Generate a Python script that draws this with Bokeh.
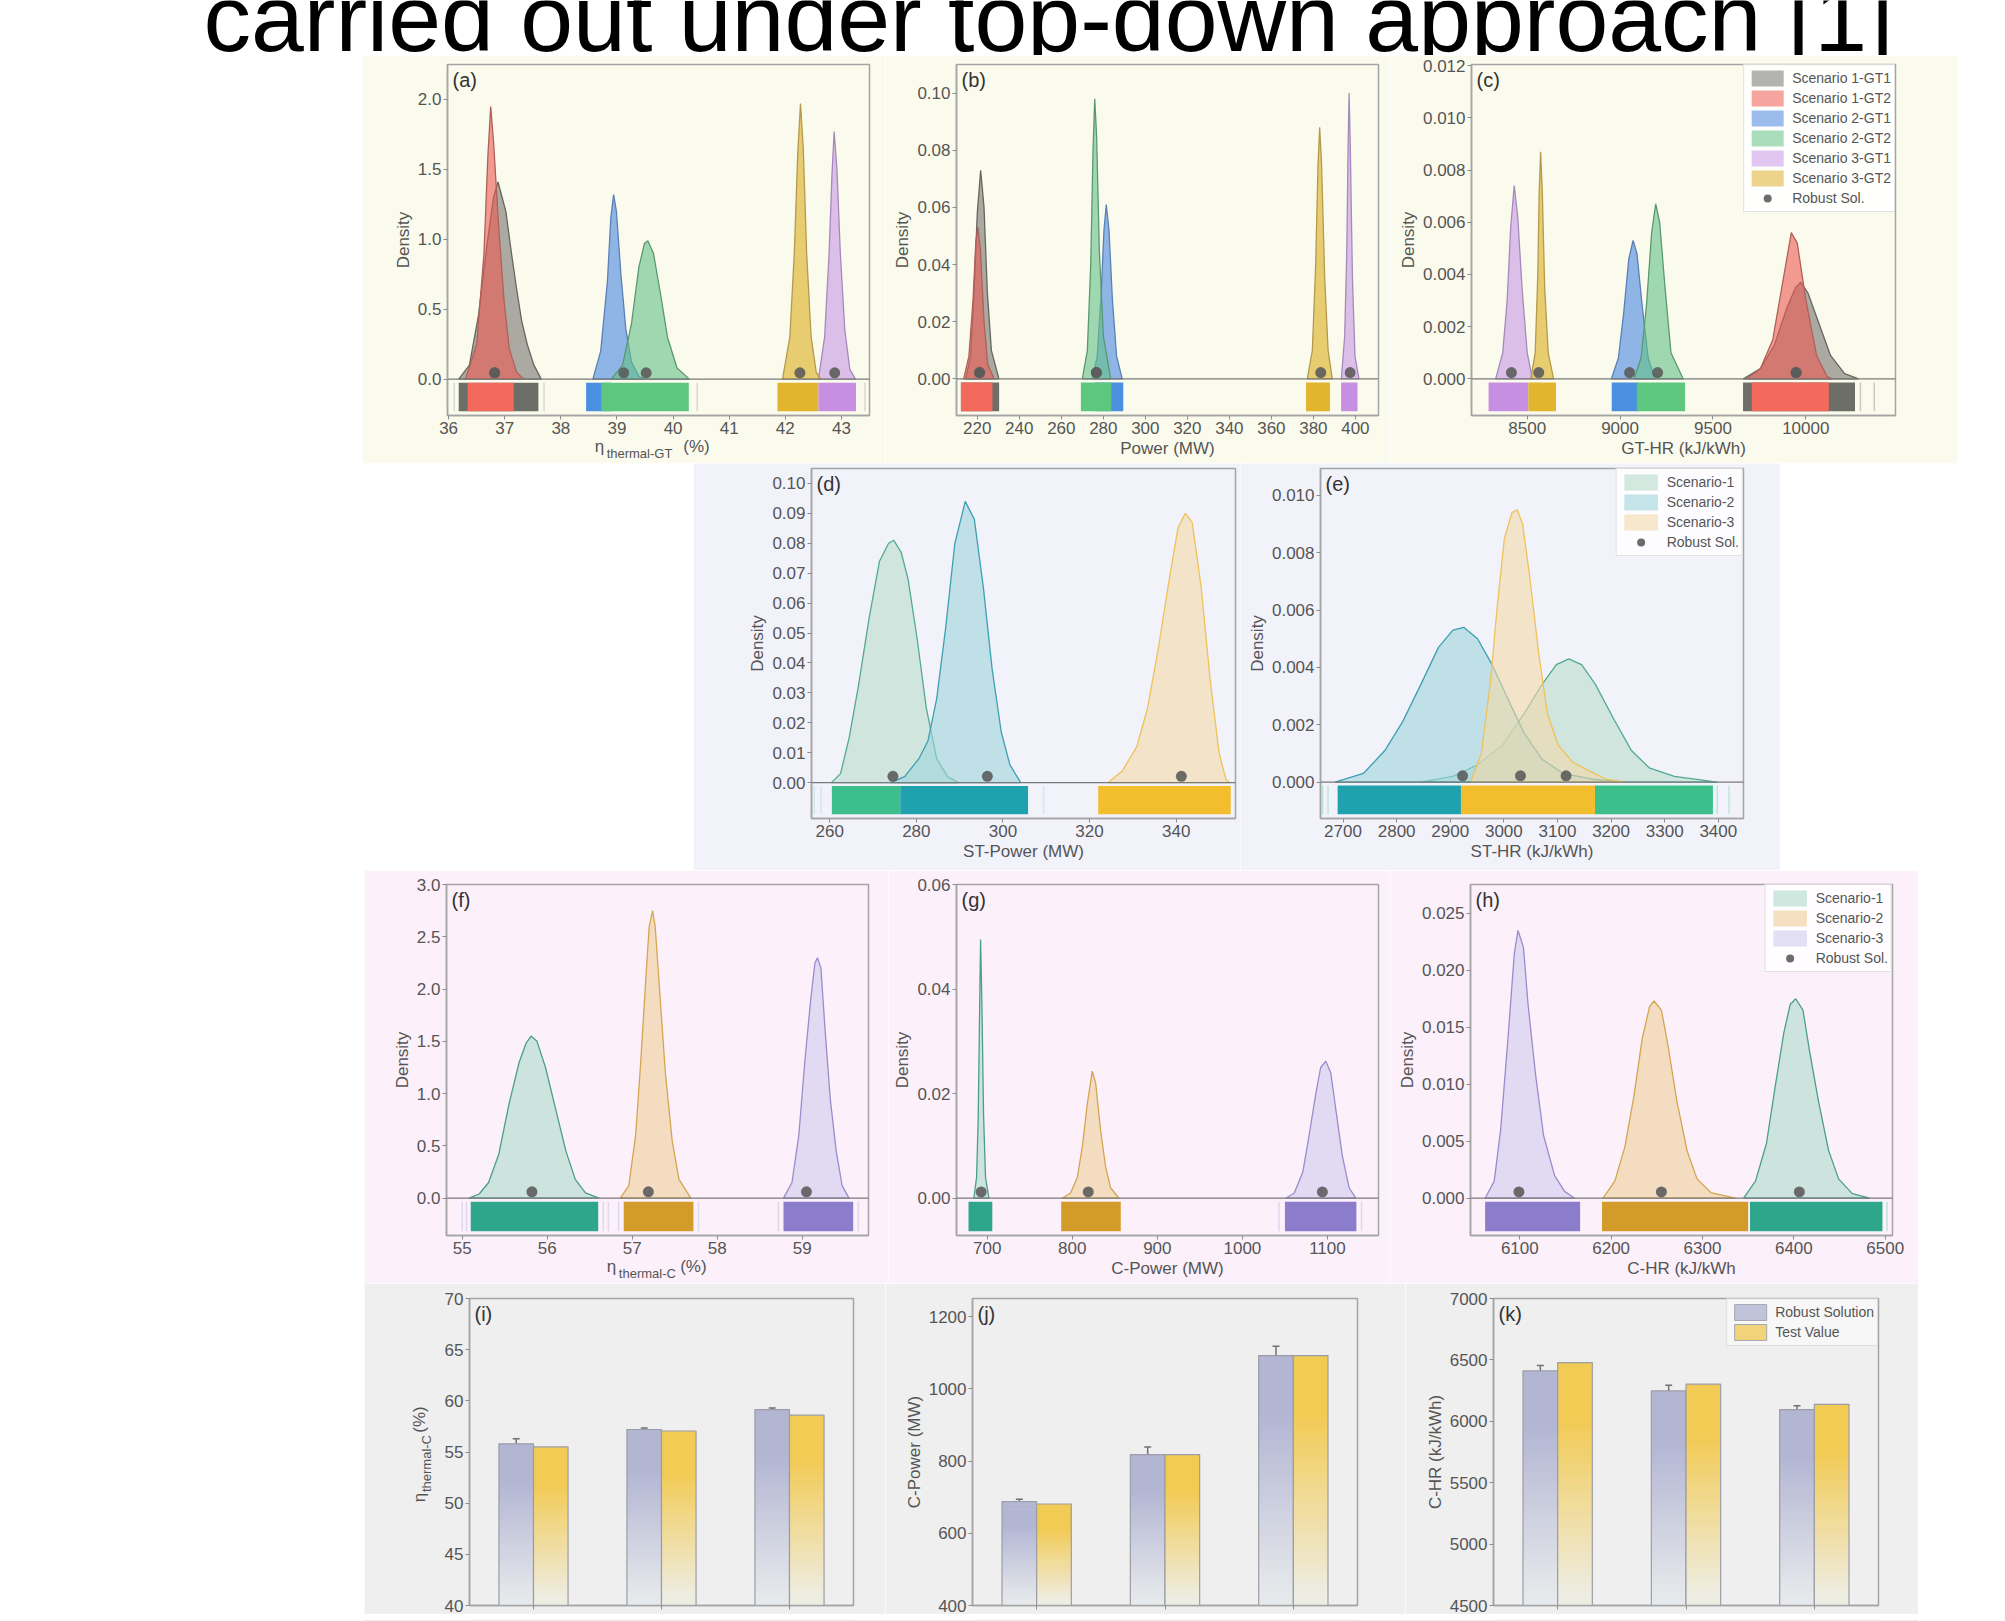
import math
from bokeh.plotting import figure
from bokeh.layouts import row, column
from bokeh.models import (Range1d, FixedTicker, PrintfTickFormatter, Span, Label, LinearAxis,
                          Legend, LegendItem, Whisker, TeeHead, ColumnDataSource, Spacer)
from bokeh.embed import file_html
from bokeh.resources import INLINE
from bokeh.core.properties import value

FONT = "Liberation Sans"
TXT = "#555555"
FRAME = "#a4a4a4"

TITLE_TEXT = "carried out under top-down approach [1]"
GT_NAMES = ["Scenario 1-GT1", "Scenario 1-GT2", "Scenario 2-GT1", "Scenario 2-GT2",
            "Scenario 3-GT1", "Scenario 3-GT2"]
SC_NAMES = ["Scenario-1", "Scenario-2", "Scenario-3"]
ROBUST_NAME = "Robust Sol."
CATEGORIES = ["Scenario-1", "Scenario-2", "Scenario-3"]
BAR_NAMES = ["Robust Solution", "Test Value"]

# ---------------- (a) eta thermal-GT ----------------
A_X = [[36.18, 36.37, 36.53, 36.68, 36.8, 36.88, 37.02, 37.12, 37.21, 37.3, 37.4, 37.52, 37.65],
       [36.3, 36.5, 36.63, 36.7, 36.75, 36.8, 36.89, 36.99, 37.08, 37.21, 37.34],
       [38.57, 38.71, 38.83, 38.89, 38.94, 38.99, 39.07, 39.16, 39.26, 39.39, 39.5],
       [38.9, 39.1, 39.26, 39.39, 39.49, 39.55, 39.65, 39.78, 39.9, 40.07, 40.29],
       [42.59, 42.7, 42.78, 42.83, 42.87, 42.92, 42.98, 43.06, 43.15, 43.25],
       [41.95, 42.08, 42.16, 42.22, 42.27, 42.32, 42.38, 42.46, 42.55, 42.63]]
A_Y = [[0, 0.1, 0.45, 0.95, 1.3, 1.41, 1.2, 0.9, 0.65, 0.42, 0.25, 0.1, 0],
       [0, 0.25, 0.9, 1.6, 1.95, 1.7, 1.1, 0.55, 0.22, 0.05, 0],
       [0, 0.2, 0.7, 1.15, 1.32, 1.2, 0.75, 0.35, 0.12, 0.02, 0],
       [0, 0.1, 0.4, 0.8, 0.97, 0.99, 0.9, 0.6, 0.3, 0.08, 0],
       [0, 0.3, 0.9, 1.45, 1.77, 1.5, 0.9, 0.35, 0.07, 0],
       [0, 0.3, 0.9, 1.6, 1.97, 1.65, 0.9, 0.3, 0.05, 0]]
A_DOT = [36.82, 36.82, 39.12, 39.52, 42.88, 42.26]
A_RUG_LO = [36.18, 36.34, 38.45, 38.72, 42.59, 41.86]
A_RUG_HI = [37.6, 37.16, 38.9, 40.28, 43.26, 42.59]
A_FAINT = [36.1, 37.7, 40.43, 43.42]
A_XTICKS = [36, 37, 38, 39, 40, 41, 42, 43]
A_YTICKS = [0.0, 0.5, 1.0, 1.5, 2.0]

# ---------------- (b) GT power ----------------
B_X = [[214.4, 216.8, 218.4, 220, 221.6, 223.2, 224.8, 226.7, 230.3],
       [213.5, 216, 218, 219.3, 220.3, 221.5, 223.2, 225, 228],
       [274.8, 277.1, 279, 280.3, 281.4, 282.7, 284.3, 286.3, 289],
       [270, 272.4, 274, 275.1, 275.9, 276.8, 278.1, 280, 283.5],
       [393.3, 394.9, 395.9, 396.5, 397, 397.6, 398.6, 399.8, 401.7],
       [377.1, 379.5, 381.1, 382.2, 383, 383.9, 385.4, 387, 389]]
B_Y = [[0, 0.008, 0.03, 0.058, 0.073, 0.06, 0.03, 0.01, 0],
       [0, 0.008, 0.028, 0.048, 0.053, 0.045, 0.02, 0.005, 0],
       [0, 0.008, 0.03, 0.052, 0.061, 0.052, 0.028, 0.008, 0],
       [0, 0.01, 0.04, 0.08, 0.098, 0.085, 0.045, 0.015, 0],
       [0, 0.015, 0.045, 0.08, 0.1, 0.08, 0.035, 0.008, 0],
       [0, 0.01, 0.04, 0.075, 0.088, 0.075, 0.035, 0.01, 0]]
B_DOT = [221.1, 221.1, 276.7, 276.7, 397.5, 383.5]
B_RUG_LO = [212.2, 212.2, 276.0, 269.3, 393.2, 376.5]
B_RUG_HI = [230.4, 227.2, 289.5, 283.8, 401.0, 387.9]
B_FAINT = []
B_XTICKS = [220, 240, 260, 280, 300, 320, 340, 360, 380, 400]
B_YTICKS = [0.0, 0.02, 0.04, 0.06, 0.08, 0.10]

# ---------------- (c) GT heat rate ----------------
C_X = [[9662, 9756, 9831, 9897, 9945, 9973, 10011, 10067, 10133, 10209, 10284],
       [9680, 9756, 9822, 9878, 9922, 9954, 10001, 10058, 10114, 10140],
       [8953, 8991, 9019, 9047, 9070, 9091, 9119, 9151, 9189],
       [9075, 9113, 9142, 9170, 9192, 9213, 9242, 9274, 9340],
       [8330, 8368, 8392, 8411, 8430, 8449, 8472, 8500, 8528],
       [8519, 8543, 8557, 8564, 8572, 8581, 8594, 8613, 8642]]
C_Y = [[0, 0.0004, 0.0013, 0.0027, 0.0035, 0.0037, 0.0033, 0.0022, 0.0009, 0.0002, 0],
       [0, 0.0004, 0.0015, 0.0038, 0.0056, 0.0052, 0.003, 0.0009, 0.0001, 0],
       [0, 0.0008, 0.0025, 0.0046, 0.0053, 0.0048, 0.0028, 0.0008, 0],
       [0, 0.0008, 0.0028, 0.0056, 0.0067, 0.006, 0.0035, 0.001, 0],
       [0, 0.001, 0.003, 0.0058, 0.0074, 0.0062, 0.0035, 0.001, 0],
       [0, 0.001, 0.004, 0.007, 0.0087, 0.0072, 0.0035, 0.001, 0]]
C_DOT = [9948, 9948, 9051, 9202, 8415, 8562]
C_RUG_LO = [9662, 9709, 8955, 9090, 8292, 8506]
C_RUG_HI = [10265, 10124, 9100, 9350, 8506, 8655]
C_FAINT = [10294, 10369]
C_XTICKS = [8500, 9000, 9500, 10000, 10500]
C_YTICKS = [0.0, 0.002, 0.004, 0.006, 0.008, 0.010, 0.012]

# ---------------- (d) ST power ----------------
D_X = [[260.4, 262.5, 264.5, 266.6, 269.1, 271.5, 273.6, 274.8, 276.5, 278.1, 280.2, 282.3, 284.7, 287.2, 289.7],
       [274, 277.3, 280.6, 282.7, 284.7, 286.8, 288.9, 291.3, 293.4, 295.5, 297.5, 299.6, 301.6, 304.1],
       [324.3, 327.6, 330.9, 333.4, 335.9, 338.4, 340.4, 342.1, 343.7, 345.8, 347.8, 349.9, 351.5, 352.4]]
D_Y = [[0, 0.003, 0.015, 0.032, 0.055, 0.074, 0.08, 0.081, 0.077, 0.068, 0.048, 0.025, 0.008, 0.002, 0],
       [0, 0.002, 0.008, 0.014, 0.028, 0.052, 0.08, 0.094, 0.088, 0.065, 0.038, 0.017, 0.006, 0],
       [0, 0.004, 0.012, 0.025, 0.045, 0.068, 0.085, 0.09, 0.087, 0.065, 0.035, 0.01, 0.001, 0]]
D_DOT = [274.6, 296.4, 341.2]
D_RUG_LO = [260.5, 276.3, 322.0]
D_RUG_HI = [276.3, 305.8, 352.6]
D_FAINT = [256.4, 258.0, 309.4]
D_XTICKS = [260, 280, 300, 320, 340]
D_YTICKS = [0.0, 0.01, 0.02, 0.03, 0.04, 0.05, 0.06, 0.07, 0.08, 0.09, 0.10]

# ---------------- (e) ST heat rate ----------------
E_X = [[2845, 2905, 2951, 2998, 3038, 3071, 3098, 3121, 3145, 3171, 3205, 3238, 3271, 3318, 3398],
       [2685, 2738, 2778, 2811, 2845, 2878, 2905, 2925, 2951, 2978, 3005, 3038, 3071, 3111, 3165, 3225],
       [2938, 2958, 2975, 2988, 3001, 3015, 3025, 3035, 3048, 3065, 3081, 3101, 3128, 3158, 3191, 3225]]
E_Y = [[0, 0.0002, 0.0006, 0.0013, 0.0024, 0.0034, 0.0041, 0.0043, 0.0041, 0.0034, 0.0022, 0.0011, 0.0005, 0.0002, 0],
       [0, 0.0003, 0.0011, 0.0021, 0.0034, 0.0047, 0.0053, 0.0054, 0.005, 0.0041, 0.003, 0.0017, 0.0008, 0.0003, 0.0001, 0],
       [0, 0.001, 0.0035, 0.0062, 0.0085, 0.0094, 0.0095, 0.009, 0.0072, 0.0045, 0.0024, 0.0013, 0.0007, 0.0004, 0.0001, 0]]
E_DOT = [3116, 2923, 3031]
E_RUG_LO = [3170, 2690, 2920]
E_RUG_HI = [3390, 2920, 3170]
E_FAINT = [2662, 2672, 3398, 3420]
E_XTICKS = [2700, 2800, 2900, 3000, 3100, 3200, 3300, 3400]
E_YTICKS = [0.0, 0.002, 0.004, 0.006, 0.008, 0.010]

# ---------------- (f) eta thermal-C ----------------
F_X = [[55.08, 55.2, 55.31, 55.43, 55.55, 55.67, 55.75, 55.81, 55.88, 55.98, 56.1, 56.22, 56.33, 56.45, 56.61],
       [56.86, 56.96, 57.04, 57.1, 57.16, 57.2, 57.24, 57.27, 57.33, 57.39, 57.47, 57.55, 57.69],
       [58.78, 58.88, 58.96, 59.03, 59.1, 59.15, 59.18, 59.22, 59.27, 59.33, 59.4, 59.47, 59.55]]
F_Y = [[0, 0.04, 0.15, 0.42, 0.9, 1.3, 1.48, 1.55, 1.5, 1.25, 0.85, 0.45, 0.18, 0.05, 0],
       [0, 0.12, 0.6, 1.3, 2.1, 2.6, 2.75, 2.6, 1.9, 1.2, 0.55, 0.18, 0],
       [0, 0.15, 0.6, 1.3, 1.9, 2.25, 2.3, 2.2, 1.6, 0.95, 0.45, 0.12, 0]]
F_DOT = [55.82, 57.19, 59.05]
F_RUG_LO = [55.1, 56.9, 58.78]
F_RUG_HI = [56.6, 57.72, 59.6]
F_FAINT = [55.0, 55.05, 56.66, 56.72, 56.84, 57.78, 58.72, 59.66]
F_XTICKS = [55, 56, 57, 58, 59]
F_YTICKS = [0.0, 0.5, 1.0, 1.5, 2.0, 2.5, 3.0]

# ---------------- (g) C power ----------------
G_X = [[684.3, 687.5, 689.4, 691, 692.2, 693.7, 695.7, 698, 702],
       [788, 798, 806, 812, 817.6, 823.5, 827.5, 833.3, 839.2, 845, 855],
       [1051, 1061, 1071, 1078.4, 1086.3, 1092, 1098, 1103.9, 1109.8, 1117.6, 1125.5, 1133.3]]
G_Y = [[0, 0.004, 0.015, 0.035, 0.0495, 0.038, 0.016, 0.004, 0],
       [0, 0.001, 0.004, 0.01, 0.018, 0.0243, 0.022, 0.013, 0.006, 0.002, 0],
       [0, 0.001, 0.005, 0.012, 0.02, 0.025, 0.0262, 0.024, 0.017, 0.008, 0.002, 0]]
G_DOT = [692.9, 818.8, 1094]
G_RUG_LO = [678, 787, 1050]
G_RUG_HI = [706, 857, 1134]
G_FAINT = [1043, 1140]
G_XTICKS = [700, 800, 900, 1000, 1100]
G_YTICKS = [0.0, 0.02, 0.04, 0.06]

# ---------------- (h) C heat rate ----------------
H_X = [[6345, 6358, 6370, 6379, 6389, 6396, 6402, 6410, 6417, 6427, 6438, 6449, 6464, 6483],
       [6191, 6204, 6215, 6225, 6234, 6242, 6247, 6255, 6262, 6272, 6283, 6294, 6309, 6336],
       [6062, 6072, 6079, 6087, 6094, 6098, 6104, 6109, 6117, 6126, 6138, 6149, 6160]]
H_Y = [[0, 0.0015, 0.0048, 0.0095, 0.0145, 0.017, 0.0175, 0.0165, 0.013, 0.0085, 0.0042, 0.0017, 0.0004, 0],
       [0, 0.0015, 0.0045, 0.009, 0.014, 0.0168, 0.0173, 0.0165, 0.0135, 0.0085, 0.0042, 0.0017, 0.0005, 0],
       [0, 0.0015, 0.006, 0.014, 0.0215, 0.0235, 0.022, 0.017, 0.011, 0.0055, 0.002, 0.0006, 0]]
H_DOT = [6406, 6255, 6099]
H_RUG_LO = [6352, 6190, 6062]
H_RUG_HI = [6497, 6350, 6166]
H_FAINT = [6502, 6510]
H_XTICKS = [6100, 6200, 6300, 6400, 6500]
H_YTICKS = [0.0, 0.005, 0.010, 0.015, 0.020, 0.025]

# ---------------- (i)(j)(k) bars ----------------
I_ROBUST = [55.8, 57.2, 59.15]
I_ERR = [0.5, 0.15, 0.15]
I_TEST = [55.5, 57.05, 58.6]
I_YTICKS = [40, 45, 50, 55, 60, 65, 70]
J_ROBUST = [688, 818, 1092]
J_ERR = [6, 21, 26]
J_TEST = [681, 818, 1092]
J_YTICKS = [400, 600, 800, 1000, 1200]
K_ROBUST = [6410, 6247, 6095]
K_ERR = [45, 47, 32]
K_TEST = [6478, 6302, 6138]
K_YTICKS = [4500, 5000, 5500, 6000, 6500, 7000]

# ---------------- styling ----------------
BG1, BG2, BG3, BG4 = "#fbfbed", "#f2f2fb", "#fcf0fb", "#efefef"
GT_FILL = ["#74746f", "#ec5a50", "#4886e1", "#62c187", "#c797e6", "#ddb22d"]
GT_ALPHA = [0.6, 0.6, 0.6, 0.6, 0.6, 0.65]
GT_LINE = ["#66665f", "#b0605a", "#5a80b5", "#5a9870", "#a48abb", "#b49a4c"]
GT_RUG = ["#6e6e69", "#f36a5c", "#4b8fe0", "#5ec77f", "#c68fe2", "#e2b52e"]
ST_FILL = ["#b8dccc", "#9dd4db", "#f4d9a8"]
ST_LINE = ["#52aa90", "#3d9fb2", "#efc25a"]
ST_RUG = ["#3cbf8a", "#20a2ae", "#f3be2e"]
CC_FILL = ["#aedacb", "#efcf99", "#d1cbec"]
CC_LINE = ["#4a9e8a", "#d4a551", "#9a8ccc"]
CC_RUG = ["#2ea68c", "#d39b2a", "#8b7ccc"]
DOT_COLOR = "#5c5c5c"


def mix(c1, c2, t):
    a = [int(c1[i:i + 2], 16) for i in (1, 3, 5)]
    b = [int(c2[i:i + 2], 16) for i in (1, 3, 5)]
    return "#%02x%02x%02x" % tuple(int(round(a[k] + (b[k] - a[k]) * t)) for k in range(3))


def style_axis(ax, fsize="17px"):
    ax.axis_line_color = FRAME
    ax.axis_line_width = 1.5
    ax.major_tick_line_color = "#8c8c8c"
    ax.major_tick_in = 0
    ax.major_tick_out = 4
    ax.minor_tick_line_color = None
    ax.major_label_text_font = FONT
    ax.major_label_text_font_size = fsize
    ax.major_label_text_color = TXT
    ax.axis_label_text_font = FONT
    ax.axis_label_text_font_size = "17px"
    ax.axis_label_text_font_style = "normal"
    ax.axis_label_text_color = TXT
    ax.major_label_standoff = 2
    ax.axis_label_standoff = 2


def make_fig(w, h, bl, br, bt, bb, xr, yr, bg, xticks, yticks, xfmt, yfmt,
             xlabel=None, ylabel=None):
    p = figure(width=w, height=h, x_range=Range1d(*xr), y_range=Range1d(*yr),
               output_backend="svg", toolbar_location=None,
               min_border_left=bl, min_border_right=br,
               min_border_top=bt, min_border_bottom=bb)
    p.background_fill_color = bg
    p.border_fill_color = bg
    p.outline_line_color = FRAME
    p.outline_line_width = 1.5
    p.grid.visible = False
    style_axis(p.xaxis[0])
    style_axis(p.yaxis[0])
    p.xaxis.ticker = FixedTicker(ticks=xticks)
    p.yaxis.ticker = FixedTicker(ticks=yticks)
    p.xaxis.formatter = PrintfTickFormatter(format=xfmt)
    p.yaxis.formatter = PrintfTickFormatter(format=yfmt)
    if xlabel:
        p.xaxis.axis_label = xlabel
    if ylabel:
        p.yaxis.axis_label = ylabel
    return p


def text_axis(p, side, pairs, fsize, standoff, orientation=None):
    """An axis without line or ticks that only carries text pieces at given spots."""
    ticks = [round(t, 4) for t, _ in pairs]
    ax = LinearAxis(ticker=FixedTicker(ticks=ticks),
                    major_label_overrides={t: s for t, (_, s) in zip(ticks, pairs)})
    style_axis(ax, fsize)
    ax.axis_line_color = None
    ax.major_tick_line_color = None
    ax.major_tick_out = 0
    ax.major_label_standoff = standoff
    if orientation is not None:
        ax.major_label_orientation = orientation
    p.add_layout(ax, side)


def eta_xlabel(p, sub, f_eta, f_sub, f_pct):
    x0, x1 = p.x_range.start, p.x_range.end
    at = lambda f: x0 + f * (x1 - x0)
    text_axis(p, "below", [(at(f_eta), "\u03b7"), (at(f_pct), "(%)")], "17px", 0)
    text_axis(p, "below", [(at(f_sub), sub)], "13px", -13)


def panel_label(p, txt):
    p.add_layout(Label(x=p.x_range.start, y=p.y_range.end, x_offset=5, y_offset=-4,
                       text=txt, text_baseline="top", text_align="left",
                       text_font=FONT, text_font_size="20px", text_color="#333333"))


def density(p, xs, ys, fills, alphas, lines, rug_lo, rug_hi, rug_cols, rug_order,
            dots, faint, faint_col):
    y0, y1 = p.y_range.start, p.y_range.end
    span = y1 - y0
    rtop = -0.01 * span
    rbot = y0 + 0.012 * span
    for i in range(len(xs)):
        p.patch(xs[i], ys[i], fill_color=fills[i], fill_alpha=alphas[i],
                line_color=lines[i], line_width=1.3)
    if faint:
        p.segment(x0=faint, x1=faint, y0=[rbot] * len(faint), y1=[rtop] * len(faint),
                  line_color=faint_col, line_width=1.5)
    for i in rug_order:
        p.quad(left=[rug_lo[i]], right=[rug_hi[i]], top=[rtop], bottom=[rbot],
               fill_color=rug_cols[i], line_color=None)
    p.add_layout(Span(location=0, dimension="width", line_color="#7a7a7a", line_width=1.3))
    dy = 0.018 * span
    d = p.scatter(dots, [dy] * len(dots), size=11, fill_color=DOT_COLOR,
                  line_color=None, fill_alpha=0.9)
    return d


def style_legend(lg, glyph_w=40, row_h=20, alpha=0.85):
    lg.margin = 0
    lg.padding = 3
    lg.spacing = 0
    lg.glyph_width = glyph_w
    lg.glyph_height = row_h
    lg.label_height = row_h
    lg.label_standoff = 5
    lg.label_text_font = FONT
    lg.label_text_font_size = "14px"
    lg.label_text_color = TXT
    lg.border_line_color = "#c4c4c4"
    lg.background_fill_color = "white"
    lg.background_fill_alpha = alpha


def add_legend(p, names, xs, fills, alphas, dot_r, glyph_w=40):
    items = []
    for n, xv, f, a in zip(names, xs, fills, alphas):
        # zero-size proxy at the start of each curve: gives the legend its swatch
        r = p.quad(left=[xv[0]], right=[xv[0]], top=[0], bottom=[0], fill_color=f,
                   fill_alpha=a, line_color=None)
        items.append(LegendItem(label=n, renderers=[r]))
    items.append(LegendItem(label=ROBUST_NAME, renderers=[dot_r]))
    lg = Legend(items=items, location="top_right")
    style_legend(lg, glyph_w)
    p.add_layout(lg)


# ---------------- title ----------------
pt = figure(width=2005, height=55, x_range=Range1d(0, 2005), y_range=Range1d(0, 55),
            output_backend="svg", toolbar_location=None, x_axis_type=None, y_axis_type=None,
            min_border=0)
pt.outline_line_color = None
pt.grid.visible = False
pt.border_fill_color = "white"
pt.background_fill_color = "white"
pt.text(x=[203], y=[38], text=[TITLE_TEXT], text_font=value(FONT), text_font_size="95px",
        text_baseline="alphabetic", text_color="black")

# ---------------- row 1 ----------------
fa = make_fig(523, 408, 85, 16, 9, 48, (35.98, 43.5), (-0.26, 2.25), BG1,
              A_XTICKS, A_YTICKS, "%d", "%.1f", ylabel="Density")
density(fa, A_X, A_Y, GT_FILL, GT_ALPHA, GT_LINE, A_RUG_LO, A_RUG_HI, GT_RUG,
        [0, 1, 2, 3, 5, 4], A_DOT, A_FAINT, "#d8d8d0")
panel_label(fa, "(a)")
eta_xlabel(fa, "thermal-GT", 0.36, 0.455, 0.59)

fb = make_fig(505, 408, 71, 12, 9, 48, (210.1, 411), (-0.0128, 0.110), BG1,
              B_XTICKS, B_YTICKS, "%d", "%.2f", xlabel="Power (MW)", ylabel="Density")
density(fb, B_X, B_Y, GT_FILL, GT_ALPHA, GT_LINE, B_RUG_LO, B_RUG_HI, GT_RUG,
        [0, 1, 2, 3, 5, 4], B_DOT, B_FAINT, "#d8d8d0")
panel_label(fb, "(b)")

fc = make_fig(567, 408, 81, 62, 9, 48, (8200, 10483), (-0.0014, 0.01204), BG1,
              C_XTICKS, C_YTICKS, "%d", "%.3f", xlabel="GT-HR (kJ/kWh)", ylabel="Density")
dc = density(fc, C_X, C_Y, GT_FILL, GT_ALPHA, GT_LINE, C_RUG_LO, C_RUG_HI, GT_RUG,
             [0, 1, 2, 3, 4, 5], C_DOT, C_FAINT, "#c8c8c0")
panel_label(fc, "(c)")
add_legend(fc, GT_NAMES, C_X, GT_FILL, [0.55] * 6, dc)

# ---------------- row 2 ----------------
fd = make_fig(547, 407, 118, 5, 5, 52, (255.8, 353.7), (-0.012, 0.105), BG2,
              D_XTICKS, D_YTICKS, "%d", "%.2f", xlabel="ST-Power (MW)", ylabel="Density")
density(fd, D_X, D_Y, ST_FILL, [0.6] * 3, ST_LINE, D_RUG_LO, D_RUG_HI, ST_RUG,
        [0, 1, 2], D_DOT, D_FAINT, "#cde8ee")
panel_label(fd, "(d)")

fe = make_fig(540, 407, 80, 37, 5, 52, (2658, 3447), (-0.00127, 0.01094), BG2,
              E_XTICKS, E_YTICKS, "%d", "%.3f", xlabel="ST-HR (kJ/kWh)", ylabel="Density")
de = density(fe, E_X, E_Y, ST_FILL, [0.6] * 3, ST_LINE, E_RUG_LO, E_RUG_HI, ST_RUG,
             [0, 1, 2], E_DOT, E_FAINT, "#bfe6dc")
panel_label(fe, "(e)")
add_legend(fe, SC_NAMES, E_X, ST_FILL, [0.6] * 3, de, glyph_w=42)

# ---------------- row 3 ----------------
ff = make_fig(524, 413, 82, 20, 14, 48, (54.815, 59.78), (-0.357, 3.0), BG3,
              F_XTICKS, F_YTICKS, "%d", "%.1f", ylabel="Density")
density(ff, F_X, F_Y, CC_FILL, [0.6] * 3, CC_LINE, F_RUG_LO, F_RUG_HI, CC_RUG,
        [0, 1, 2], F_DOT, F_FAINT, "#ddd8ee")
panel_label(ff, "(f)")
eta_xlabel(ff, "thermal-C", 0.391, 0.476, 0.585)

fg = make_fig(502, 413, 68, 12, 14, 48, (663.9, 1160), (-0.00713, 0.06), BG3,
              G_XTICKS, G_YTICKS, "%d", "%.2f", xlabel="C-Power (MW)", ylabel="Density")
density(fg, G_X, G_Y, CC_FILL, [0.6] * 3, CC_LINE, G_RUG_LO, G_RUG_HI, CC_RUG,
        [0, 1, 2], G_DOT, G_FAINT, "#ddd8ee")
panel_label(fg, "(g)")

fh = make_fig(528, 413, 80, 26, 14, 48, (6046, 6508), (-0.00327, 0.02752), BG3,
              H_XTICKS, H_YTICKS, "%d", "%.3f", xlabel="C-HR (kJ/kWh", ylabel="Density")
dh = density(fh, H_X, H_Y, CC_FILL, [0.6] * 3, CC_LINE, H_RUG_LO, H_RUG_HI, CC_RUG,
             [0, 1, 2], H_DOT, H_FAINT, "#bfe3da")
panel_label(fh, "(h)")
add_legend(fh, SC_NAMES, H_X, CC_FILL, [0.6] * 3, dh, glyph_w=42)

# ---------------- row 4 (bars) ----------------
ROB_TOP, ROB_BOT = "#b3b6d3", "#e6e9eb"
TST_TOP, TST_BOT = "#f2cb55", "#eeede4"
BAR_W = 0.27
POS = [1, 2, 3]


def bar_fig(w, bl, br, yr, yticks, ylabel, robust, err, test, label):
    p = make_fig(w, 331, bl, br, 15, 9, (0.5, 3.5), yr, BG4, POS, yticks,
                 "%d", "%d", ylabel=ylabel)
    p.xaxis.major_label_overrides = {q: "" for q in POS}
    p.xaxis.major_label_text_font_size = "1px"
    p.xaxis.major_label_standoff = 0
    y0 = yr[0]
    n = 50
    for lefts, rights, vals, ctop, cbot in (
            ([q - BAR_W for q in POS], POS, robust, ROB_TOP, ROB_BOT),
            (POS, [q + BAR_W for q in POS], test, TST_TOP, TST_BOT)):
        L, R, B, T, C = [], [], [], [], []
        for l, r, v in zip(lefts, rights, vals):
            hgt = (v - y0) / n
            for k in range(n):
                t = (k + 0.5) / n
                L.append(l)
                R.append(r)
                B.append(y0 + k * hgt)
                T.append(min(v, y0 + (k + 1.3) * hgt))
                C.append(mix(cbot, ctop, max(0.0, min(1.0, (t - 0.04) / 0.72))))
        p.quad(left=L, right=R, bottom=B, top=T, fill_color=C, line_color=None)
        p.quad(left=lefts, right=rights, bottom=[y0] * 3, top=vals, fill_alpha=0,
               line_color="#9c9ca6", line_width=1.2)
    src = ColumnDataSource(dict(base=[q - BAR_W / 2 for q in POS],
                                upper=[v + e for v, e in zip(robust, err)],
                                lower=[v - e for v, e in zip(robust, err)]))
    p.add_layout(Whisker(source=src, base="base", upper="upper", lower="lower",
                         line_color="#707078", line_width=1.5,
                         upper_head=TeeHead(size=7, line_color="#707078", line_width=1.5),
                         lower_head=TeeHead(size=7, line_color="#707078", line_width=1.5)))
    panel_label(p, label)
    # strip below the figure with the category names (cut by the page edge, as in the source)
    s = figure(width=w, height=7, x_range=p.x_range, y_range=Range1d(0, 7),
               output_backend="svg", toolbar_location=None, x_axis_type=None,
               y_axis_type=None, min_border_left=bl, min_border_right=br,
               min_border_top=0, min_border_bottom=0)
    s.outline_line_color = None
    s.grid.visible = False
    s.background_fill_color = BG4
    s.border_fill_color = BG4
    s.text(x=POS, y=[7] * 3, text=CATEGORIES, text_align="center", text_baseline="top",
           text_font=value(FONT), text_font_size="17px", text_color=TXT)
    return p, s


fi, si = bar_fig(521, 105, 32, (40, 70), I_YTICKS, None, I_ROBUST, I_ERR, I_TEST, "(i)")
ya, yb = fi.y_range.start, fi.y_range.end
aty = lambda f: ya + f * (yb - ya)
text_axis(fi, "left", [(aty(0.4625), "thermal-C")], "13px", 7, "vertical")
text_axis(fi, "left", [(aty(0.352), "\u03b7"), (aty(0.606), "(%)")], "17px", -13, "vertical")

fj, sj = bar_fig(520, 87, 48, (400, 1250), J_YTICKS, "C-Power (MW)", J_ROBUST, J_ERR, J_TEST, "(j)")
fk, sk = bar_fig(513, 88, 40, (4500, 7000), K_YTICKS, "C-HR (kJ/kWh)", K_ROBUST, K_ERR, K_TEST, "(k)")
items = []
for n, (ctop, cbot), v in zip(BAR_NAMES, ((ROB_TOP, ROB_BOT), (TST_TOP, TST_BOT)),
                              (K_ROBUST, K_TEST)):
    r = fk.quad(left=[POS[0]], right=[POS[0]], top=[v[0]], bottom=[v[0]],
                fill_color=mix(cbot, ctop, 0.75), line_color="#a8a8b0")
    items.append(LegendItem(label=n, renderers=[r]))
lgk = Legend(items=items, location="top_right")
style_legend(lgk, 40, 20, 0.5)
fk.add_layout(lgk)

layout = column(
    pt,
    row(Spacer(width=362, height=408), fa, fb, fc, Spacer(width=48, height=408)),
    row(Spacer(width=693, height=407), fd, fe, Spacer(width=225, height=407)),
    row(Spacer(width=364, height=413), ff, fg, fh, Spacer(width=87, height=413)),
    row(Spacer(width=364, height=338), column(fi, si), column(fj, sj), column(fk, sk),
        Spacer(width=87, height=338)),
)

with open("out.html", "w") as fh_out:
    fh_out.write(file_html(layout, INLINE))
